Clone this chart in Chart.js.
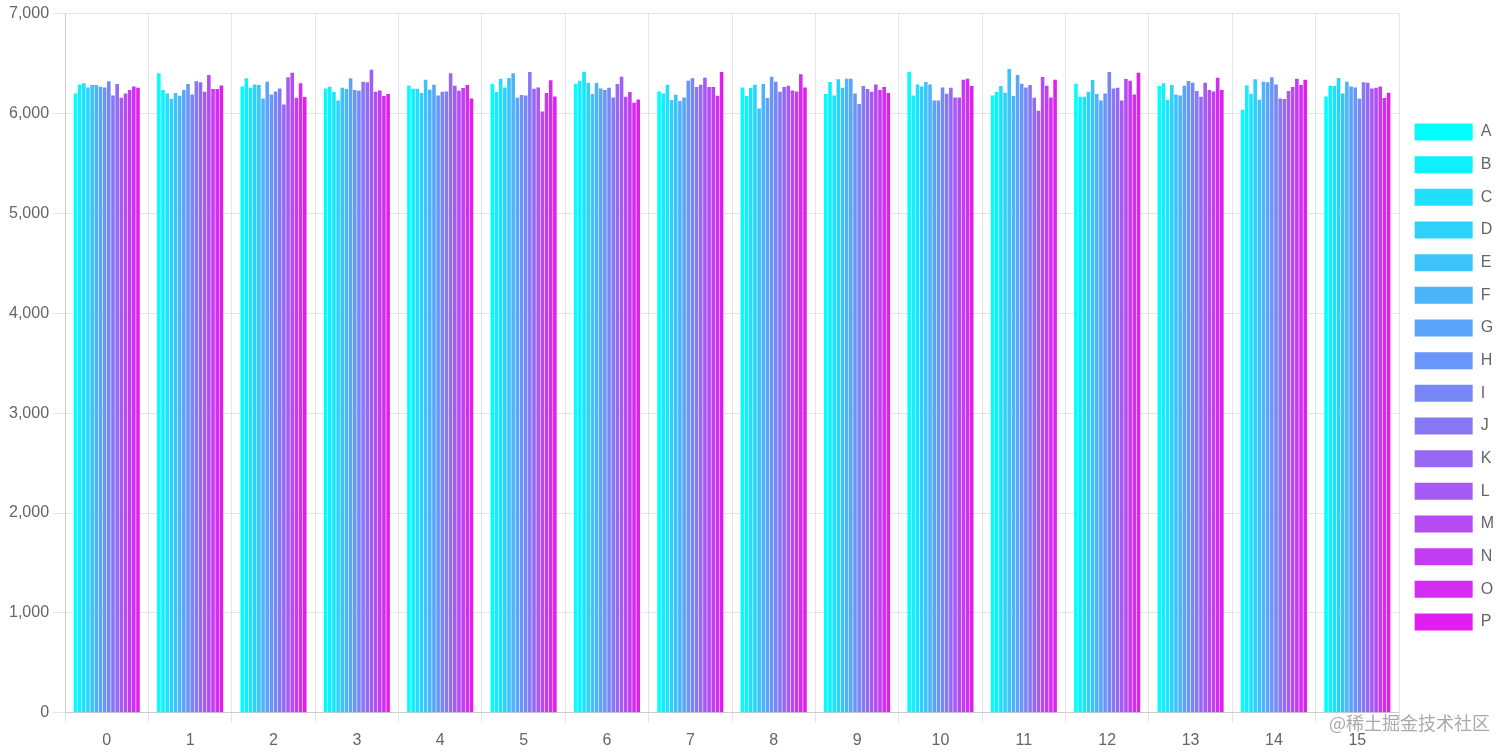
<!DOCTYPE html>
<html>
<head>
<meta charset="utf-8">
<script src="https://cdn.jsdelivr.net/npm/chart.js@4/dist/chart.umd.min.js"></script>
<style>
  body { margin: 0; background: #fff; }
  #wrap { position: relative; width: 1512px; height: 755px; overflow: hidden; }
  #mark {
    position: absolute; right: 22px; bottom: 20px;
    font: 18px "Noto Sans CJK SC", sans-serif;
    color: rgba(140, 140, 140, 0.75);
  }
</style>
</head>
<body>
<div id="wrap">
  <canvas id="barChart" width="1512" height="755"></canvas>
  <div id="mark">@稀土掘金技术社区</div>
</div>
<script>
// categories and series names
const categories = ['0','1','2','3','4','5','6','7','8','9','10','11','12','13','14','15'];
const seriesNames = ['A','B','C','D','E','F','G','H','I','J','K','L','M','N','O','P'];

// one array per series, one value per category
const A = [6201,6402,6271,6251,6281,6295,6298,6221,6261,6194,6419,6181,6298,6275,6037,6171];
const B = [6291,6235,6352,6268,6248,6214,6328,6201,6174,6315,6181,6214,6168,6302,6281,6278];
const C = [6302,6201,6258,6214,6248,6348,6419,6288,6255,6181,6291,6275,6168,6137,6198,6275];
const D = [6261,6144,6291,6131,6204,6261,6308,6134,6288,6342,6271,6208,6218,6285,6342,6355];
const E = [6285,6204,6285,6258,6338,6355,6194,6188,6050,6258,6315,6446,6335,6191,6137,6201];
const F = [6285,6178,6151,6245,6238,6402,6305,6124,6295,6348,6291,6174,6194,6181,6318,6318];
const G = [6268,6235,6318,6352,6288,6157,6251,6161,6154,6348,6131,6385,6131,6278,6312,6271];
const H = [6261,6295,6191,6235,6181,6184,6235,6328,6369,6201,6131,6298,6201,6325,6362,6261];
const I = [6322,6191,6221,6228,6218,6181,6258,6352,6318,6094,6261,6261,6415,6308,6291,6147];
const J = [6181,6322,6251,6318,6221,6415,6161,6265,6218,6275,6198,6285,6251,6224,6151,6312];
const K = [6295,6312,6090,6312,6402,6248,6295,6288,6265,6245,6258,6157,6258,6168,6144,6308];
const L = [6157,6218,6362,6439,6278,6261,6369,6358,6278,6218,6161,6027,6131,6308,6224,6251];
const M = [6201,6385,6409,6218,6228,6020,6168,6265,6231,6291,6161,6365,6345,6235,6265,6258];
const N = [6235,6245,6157,6231,6255,6204,6214,6265,6221,6235,6338,6278,6328,6221,6348,6271];
const O = [6271,6245,6302,6174,6285,6332,6107,6178,6392,6265,6348,6161,6191,6358,6285,6154];
const P = [6258,6281,6164,6194,6151,6171,6141,6415,6261,6204,6275,6338,6409,6235,6338,6208];
const seriesValues = [A,B,C,D,E,F,G,H,I,J,K,L,M,N,O,P];

// colour ramp cyan -> magenta
function rampColor(i, n, alpha) {
  const t = i / (n - 1);
  const r = Math.round(0 + 225 * t);
  const g = Math.round(255 - 225 * t);
  const b = Math.round(255 - 15 * t);
  return `rgba(${r}, ${g}, ${b}, ${alpha})`;
}

const datasets = seriesNames.map((name, i) => ({
  label: name,
  data: seriesValues[i],
  backgroundColor: rampColor(i, seriesNames.length, 1),
  borderWidth: 0,
  categoryPercentage: 0.8,
  barPercentage: 0.86
}));

Chart.defaults.font.family = '"Liberation Sans", Arial, sans-serif';
Chart.defaults.color = '#666';

const ctx = document.getElementById('barChart').getContext('2d');
new Chart(ctx, {
  type: 'bar',
  data: { labels: categories, datasets: datasets },
  options: {
    responsive: false,
    animation: false,
    layout: { padding: { top: -4, right: 8, left: 5, bottom: -3 } },
    plugins: {
      legend: {
        position: 'right',
        labels: {
          boxWidth: 58,
          boxHeight: 17,
          padding: 15.67,
          font: { size: 16 },
          color: '#666'
        }
      },
      tooltip: { enabled: false }
    },
    scales: {
      x: {
        grid: { offset: true, color: 'rgba(0,0,0,0.1)', tickLength: 10 },
        ticks: { font: { size: 16 }, padding: 8 }
      },
      y: {
        min: 0,
        max: 7000,
        ticks: { stepSize: 1000, font: { size: 16 }, padding: 4 },
        grid: { color: 'rgba(0,0,0,0.1)', tickLength: 12 }
      }
    }
  }
});
</script>
</body>
</html>
